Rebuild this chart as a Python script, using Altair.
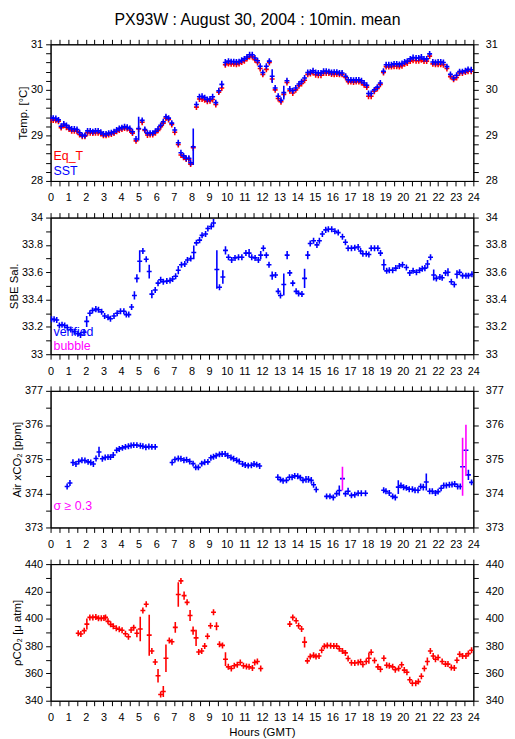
import altair as alt
import pandas as pd

TITLE = "PX93W : August 30, 2004 : 10min. mean"

# ---- Panel 1: (hour, SST, Eq_T, sigma)
TEMP_ROWS = [
    (0.00, 29.38, 29.34, 0), (0.15, 29.38, 29.34, 0), (0.30, 29.37, 29.33, 0), (0.45, 29.34, 29.31, 0),
    (0.60, 29.20, 29.17, 0), (0.75, 29.25, 29.22, 0), (0.90, 29.22, 29.18, 0), (1.05, 29.17, 29.14, 0),
    (1.20, 29.14, 29.10, 0), (1.35, 29.14, 29.10, 0), (1.50, 29.13, 29.09, 0), (1.65, 29.06, 29.02, 0),
    (1.80, 29.00, 28.98, 0), (1.95, 29.00, 28.98, 0), (2.10, 29.10, 29.06, 0), (2.25, 29.10, 29.06, 0),
    (2.40, 29.08, 29.05, 0), (2.55, 29.10, 29.06, 0), (2.70, 29.10, 29.06, 0), (2.85, 29.07, 29.04, 0),
    (3.00, 29.03, 29.00, 0), (3.15, 29.03, 29.00, 0), (3.30, 29.05, 29.02, 0), (3.45, 29.06, 29.03, 0),
    (3.60, 29.08, 29.05, 0), (3.75, 29.12, 29.09, 0), (3.90, 29.15, 29.12, 0), (4.05, 29.17, 29.14, 0),
    (4.20, 29.19, 29.16, 0), (4.35, 29.18, 29.15, 0), (4.50, 29.15, 29.12, 0), (4.65, 29.08, 29.05, 0),
    (4.85, 28.92, 28.88, 0), (5.00, 29.15, 29.14, 0.26), (5.20, 29.33, 29.29, 0), (5.35, 29.13, 29.11, 0),
    (5.50, 29.05, 29.01, 0), (5.65, 29.05, 29.02, 0), (5.80, 29.05, 29.02, 0), (5.95, 29.09, 29.06, 0),
    (6.10, 29.14, 29.11, 0), (6.25, 29.22, 29.19, 0), (6.40, 29.30, 29.27, 0), (6.55, 29.41, 29.38, 0),
    (6.70, 29.38, 29.35, 0), (6.88, 29.27, 29.24, 0), (7.05, 29.12, 29.07, 0), (7.25, 28.84, 28.80, 0.05),
    (7.40, 28.62, 28.57, 0), (7.55, 28.55, 28.52, 0), (7.70, 28.50, 28.48, 0), (7.85, 28.50, 28.48, 0),
    (7.95, 28.40, 28.37, 0), (8.10, 28.75, 28.73, 0.40), (8.28, 29.68, 29.62, 0.06), (8.45, 29.85, 29.80, 0),
    (8.60, 29.86, 29.80, 0), (8.75, 29.83, 29.78, 0), (8.90, 29.79, 29.75, 0), (9.05, 29.80, 29.76, 0),
    (9.20, 29.85, 29.79, 0), (9.38, 29.72, 29.68, 0), (9.55, 29.98, 29.95, 0), (9.72, 30.12, 30.04, 0.08),
    (9.92, 30.60, 30.55, 0.08), (10.10, 30.63, 30.58, 0), (10.25, 30.62, 30.57, 0), (10.40, 30.62, 30.57, 0),
    (10.55, 30.61, 30.56, 0), (10.70, 30.62, 30.58, 0), (10.85, 30.65, 30.61, 0), (11.00, 30.68, 30.64, 0),
    (11.15, 30.72, 30.69, 0), (11.30, 30.77, 30.73, 0), (11.45, 30.77, 30.73, 0), (11.60, 30.70, 30.66, 0),
    (11.75, 30.64, 30.60, 0), (11.90, 30.52, 30.47, 0.04), (12.05, 30.38, 30.34, 0), (12.25, 30.52, 30.45, 0.04),
    (12.42, 30.63, 30.60, 0), (12.58, 30.30, 30.24, 0.15), (12.75, 30.04, 30.00, 0.04), (12.92, 29.86, 29.81, 0),
    (13.08, 29.77, 29.74, 0), (13.24, 29.94, 29.90, 0.15), (13.42, 30.20, 30.16, 0), (13.58, 30.02, 29.98, 0),
    (13.75, 29.98, 29.93, 0), (13.92, 30.04, 30.00, 0), (14.10, 30.13, 30.09, 0), (14.25, 30.18, 30.14, 0),
    (14.42, 30.26, 30.21, 0), (14.60, 30.38, 30.34, 0), (14.75, 30.39, 30.36, 0), (14.90, 30.42, 30.38, 0),
    (15.05, 30.38, 30.33, 0), (15.20, 30.37, 30.32, 0), (15.35, 30.37, 30.32, 0), (15.50, 30.41, 30.37, 0),
    (15.65, 30.41, 30.37, 0), (15.80, 30.40, 30.37, 0), (15.95, 30.38, 30.35, 0), (16.10, 30.39, 30.34, 0),
    (16.25, 30.39, 30.35, 0), (16.40, 30.37, 30.34, 0), (16.55, 30.37, 30.34, 0), (16.75, 30.30, 30.27, 0),
    (16.90, 30.22, 30.18, 0), (17.05, 30.22, 30.18, 0), (17.20, 30.21, 30.17, 0), (17.35, 30.22, 30.18, 0),
    (17.50, 30.22, 30.18, 0), (17.65, 30.20, 30.16, 0), (17.80, 30.15, 30.11, 0), (17.95, 30.10, 30.06, 0),
    (18.05, 29.92, 29.86, 0), (18.20, 29.92, 29.86, 0), (18.38, 30.00, 29.97, 0), (18.55, 30.06, 30.03, 0),
    (18.72, 30.15, 30.12, 0), (18.90, 30.41, 30.38, 0), (19.05, 30.55, 30.51, 0), (19.20, 30.55, 30.51, 0),
    (19.35, 30.55, 30.51, 0), (19.50, 30.57, 30.52, 0), (19.65, 30.57, 30.52, 0), (19.80, 30.56, 30.51, 0),
    (19.95, 30.58, 30.53, 0), (20.10, 30.61, 30.57, 0), (20.25, 30.63, 30.59, 0), (20.42, 30.68, 30.63, 0),
    (20.58, 30.71, 30.65, 0), (20.75, 30.70, 30.64, 0), (20.90, 30.70, 30.64, 0), (21.05, 30.72, 30.66, 0),
    (21.20, 30.68, 30.63, 0), (21.35, 30.68, 30.63, 0), (21.52, 30.79, 30.74, 0), (21.70, 30.61, 30.57, 0),
    (21.85, 30.60, 30.56, 0), (22.00, 30.61, 30.56, 0), (22.15, 30.61, 30.56, 0), (22.30, 30.60, 30.55, 0),
    (22.50, 30.51, 30.47, 0), (22.70, 30.34, 30.29, 0), (22.88, 30.26, 30.23, 0), (23.05, 30.32, 30.27, 0),
    (23.22, 30.40, 30.37, 0), (23.38, 30.40, 30.37, 0), (23.55, 30.42, 30.39, 0), (23.70, 30.45, 30.41, 0),
    (23.88, 30.44, 30.41, 0),
]

# ---- Panel 2: (hour, SBE salinity, sigma)
SAL_ROWS = [
    (0.05, 33.255, 0), (0.20, 33.255, 0), (0.35, 33.25, 0), (0.50, 33.21, 0), (0.65, 33.215, 0),
    (0.80, 33.21, 0), (0.95, 33.195, 0), (1.15, 33.18, 0.01), (1.35, 33.165, 0), (1.55, 33.15, 0),
    (1.70, 33.14, 0), (1.90, 33.16, 0.025), (2.05, 33.24, 0.04), (2.23, 33.30, 0), (2.38, 33.32, 0),
    (2.57, 33.33, 0), (2.72, 33.325, 0), (2.90, 33.31, 0), (3.07, 33.28, 0), (3.26, 33.27, 0),
    (3.40, 33.26, 0), (3.60, 33.28, 0), (3.78, 33.30, 0), (3.97, 33.315, 0), (4.16, 33.315, 0),
    (4.30, 33.29, 0), (4.44, 33.29, 0), (4.60, 33.345, 0.02), (4.76, 33.43, 0.03), (4.90, 33.555, 0.03),
    (5.06, 33.68, 0.08), (5.24, 33.755, 0.02), (5.43, 33.695, 0.02), (5.60, 33.605, 0.05), (5.75, 33.44, 0.03),
    (5.94, 33.47, 0.02), (6.10, 33.52, 0), (6.25, 33.545, 0), (6.40, 33.53, 0), (6.60, 33.535, 0),
    (6.78, 33.54, 0), (6.93, 33.55, 0), (7.10, 33.57, 0), (7.25, 33.615, 0.03), (7.43, 33.655, 0),
    (7.62, 33.66, 0), (7.77, 33.69, 0), (7.96, 33.70, 0), (8.13, 33.745, 0.05), (8.28, 33.815, 0),
    (8.46, 33.835, 0), (8.60, 33.87, 0), (8.80, 33.88, 0), (8.93, 33.92, 0), (9.12, 33.935, 0),
    (9.25, 33.96, 0.03), (9.44, 33.62, 0.14), (9.59, 33.49, 0.02), (9.78, 33.565, 0.05), (9.93, 33.76, 0.03),
    (10.10, 33.71, 0), (10.28, 33.69, 0), (10.47, 33.705, 0), (10.67, 33.71, 0), (10.86, 33.71, 0),
    (11.09, 33.74, 0.02), (11.27, 33.74, 0.03), (11.42, 33.71, 0), (11.61, 33.705, 0), (11.80, 33.69, 0),
    (11.93, 33.725, 0.03), (12.08, 33.775, 0), (12.25, 33.725, 0.02), (12.40, 33.655, 0.02), (12.58, 33.575, 0.03),
    (12.77, 33.58, 0.02), (12.92, 33.46, 0.02), (13.05, 33.43, 0.02), (13.24, 33.51, 0.08), (13.43, 33.725, 0.03),
    (13.58, 33.595, 0.02), (13.75, 33.52, 0.02), (13.94, 33.46, 0), (14.08, 33.445, 0), (14.27, 33.44, 0),
    (14.42, 33.555, 0.07), (14.60, 33.725, 0.03), (14.74, 33.81, 0), (14.93, 33.83, 0), (15.12, 33.80, 0),
    (15.26, 33.83, 0.02), (15.43, 33.88, 0), (15.62, 33.91, 0), (15.77, 33.915, 0), (15.96, 33.915, 0),
    (16.14, 33.90, 0), (16.33, 33.89, 0), (16.57, 33.86, 0), (16.74, 33.82, 0.02), (16.89, 33.775, 0),
    (17.08, 33.775, 0), (17.27, 33.78, 0), (17.46, 33.785, 0.02), (17.60, 33.755, 0.02), (17.73, 33.735, 0.02),
    (17.92, 33.735, 0.02), (18.07, 33.73, 0), (18.20, 33.775, 0), (18.39, 33.775, 0), (18.58, 33.775, 0),
    (18.73, 33.74, 0.02), (18.92, 33.655, 0.04), (19.08, 33.61, 0), (19.23, 33.615, 0), (19.42, 33.615, 0.015),
    (19.60, 33.63, 0), (19.80, 33.645, 0), (19.98, 33.655, 0), (20.20, 33.635, 0.015), (20.39, 33.595, 0),
    (20.58, 33.61, 0), (20.77, 33.60, 0), (20.95, 33.615, 0), (21.10, 33.625, 0), (21.25, 33.63, 0),
    (21.40, 33.66, 0.03), (21.57, 33.71, 0.02), (21.75, 33.58, 0.04), (21.90, 33.555, 0), (22.10, 33.565, 0.015),
    (22.23, 33.56, 0), (22.42, 33.595, 0.02), (22.56, 33.60, 0.03), (22.75, 33.53, 0), (22.92, 33.51, 0.015),
    (23.07, 33.585, 0.03), (23.22, 33.60, 0), (23.39, 33.575, 0), (23.58, 33.575, 0), (23.72, 33.575, 0),
    (23.92, 33.585, 0),
]

# ---- Panel 3: (hour, air xCO2, sigma)
XCO2_ROWS = [
    (0.94, 374.20, 0), (1.10, 374.30, 0), (1.27, 374.90, 0.10), (1.44, 374.86, 0.08), (1.60, 374.93, 0),
    (1.78, 374.97, 0), (1.95, 374.96, 0), (2.13, 374.92, 0), (2.28, 374.90, 0), (2.43, 374.86, 0),
    (2.58, 375.02, 0), (2.75, 375.21, 0.15), (2.94, 375.01, 0.08), (3.10, 375.05, 0), (3.26, 375.06, 0),
    (3.40, 375.06, 0), (3.56, 375.12, 0), (3.75, 375.26, 0), (3.90, 375.30, 0), (4.08, 375.33, 0),
    (4.25, 375.36, 0), (4.42, 375.38, 0), (4.57, 375.40, 0), (4.72, 375.41, 0), (4.90, 375.41, 0),
    (5.10, 375.39, 0), (5.24, 375.38, 0), (5.41, 375.35, 0), (5.58, 375.37, 0), (5.75, 375.36, 0),
    (5.94, 375.36, 0),
    (6.90, 374.90, 0), (7.06, 374.99, 0), (7.25, 375.02, 0), (7.40, 375.01, 0), (7.57, 374.97, 0),
    (7.72, 374.98, 0), (7.90, 374.93, 0), (8.09, 374.87, 0), (8.24, 374.76, 0), (8.39, 374.76, 0),
    (8.58, 374.87, 0), (8.75, 374.91, 0), (8.93, 374.92, 0), (9.10, 375.04, 0), (9.25, 375.07, 0),
    (9.40, 375.10, 0), (9.59, 375.14, 0), (9.74, 375.15, 0), (9.91, 375.15, 0), (10.06, 375.10, 0),
    (10.24, 375.05, 0), (10.39, 375.01, 0), (10.56, 374.97, 0), (10.71, 374.93, 0), (10.90, 374.86, 0),
    (11.05, 374.83, 0), (11.22, 374.81, 0), (11.40, 374.82, 0), (11.55, 374.86, 0), (11.70, 374.84, 0),
    (11.87, 374.80, 0),
    (12.90, 374.47, 0), (13.05, 374.40, 0), (13.20, 374.37, 0), (13.39, 374.38, 0), (13.56, 374.47, 0),
    (13.71, 374.47, 0), (13.86, 374.51, 0), (14.03, 374.50, 0), (14.18, 374.46, 0), (14.33, 374.38, 0),
    (14.50, 374.41, 0.10), (14.64, 374.41, 0.10), (14.80, 374.38, 0.10), (14.93, 374.25, 0), (15.08, 374.11, 0.06),
    (15.67, 373.91, 0), (15.86, 373.91, 0), (16.05, 373.88, 0), (16.24, 373.99, 0), (16.39, 374.08, 0.15),
    (16.57, 374.43, 0.35), (16.74, 373.99, 0.06), (16.89, 374.06, 0.10), (17.08, 373.94, 0), (17.27, 373.96, 0),
    (17.46, 374.00, 0), (17.64, 374.00, 0), (17.88, 374.00, 0.06),
    (18.91, 374.09, 0), (19.04, 374.06, 0), (19.23, 374.01, 0), (19.42, 373.91, 0), (19.57, 373.88, 0),
    (19.74, 374.18, 0.20), (19.89, 374.23, 0), (20.04, 374.18, 0), (20.20, 374.16, 0), (20.36, 374.12, 0),
    (20.54, 374.12, 0), (20.69, 374.09, 0), (20.86, 374.09, 0), (21.01, 374.20, 0), (21.16, 374.18, 0.10),
    (21.33, 374.33, 0.25), (21.52, 374.06, 0), (21.67, 374.06, 0), (21.85, 374.01, 0), (22.00, 374.05, 0),
    (22.17, 374.15, 0), (22.32, 374.23, 0), (22.47, 374.23, 0), (22.64, 374.25, 0), (22.79, 374.26, 0),
    (22.94, 374.27, 0), (23.11, 374.20, 0), (23.26, 374.20, 0), (23.39, 374.78, 0.85), (23.58, 375.26, 0.75),
    (23.72, 374.54, 0.15), (23.90, 374.32, 0),
]

# ---- Panel 4: (hour, pCO2, sigma)
PCO2_ROWS = [
    (1.57, 389.4, 0), (1.72, 388.9, 0), (1.91, 391.3, 0), (2.06, 396.1, 4), (2.23, 401.0, 0),
    (2.40, 401.0, 0), (2.57, 401.2, 0), (2.72, 400.3, 0), (2.88, 400.3, 0), (3.03, 400.5, 0),
    (3.12, 401.0, 0), (3.26, 398.1, 0), (3.41, 395.9, 0), (3.56, 394.5, 0), (3.73, 393.0, 0),
    (3.90, 392.3, 0), (4.06, 391.6, 0), (4.25, 389.0, 0), (4.42, 386.8, 0), (4.57, 391.8, 2),
    (4.72, 393.5, 0), (4.90, 389.4, 3), (5.09, 392.5, 9), (5.24, 406.0, 2), (5.43, 410.6, 2),
    (5.60, 388.0, 15), (5.75, 376.4, 2), (5.94, 368.4, 1), (6.10, 358.3, 5), (6.25, 344.6, 2),
    (6.40, 346.8, 4), (6.55, 371.1, 10), (6.74, 384.1, 1), (6.89, 383.2, 1), (7.08, 393.7, 4),
    (7.25, 417.8, 9), (7.40, 427.7, 2), (7.58, 416.9, 3), (7.75, 412.0, 1), (7.92, 402.4, 4),
    (8.09, 391.3, 3), (8.26, 386.0, 6), (8.41, 375.7, 1), (8.58, 376.4, 0), (8.75, 380.0, 1),
    (8.91, 387.2, 2), (9.08, 394.9, 2), (9.25, 404.8, 2), (9.42, 394.5, 3), (9.59, 381.3, 2),
    (9.76, 380.5, 1), (9.93, 370.4, 5), (10.09, 364.8, 0), (10.26, 363.6, 0), (10.43, 365.6, 0),
    (10.60, 366.3, 0), (10.77, 368.0, 0), (10.95, 365.6, 0), (11.12, 365.1, 0), (11.27, 364.8, 0),
    (11.46, 363.9, 0), (11.59, 368.0, 1), (11.74, 368.7, 1), (11.93, 363.6, 0),
    (13.58, 396.1, 1), (13.75, 401.0, 0), (13.94, 398.6, 0), (14.08, 394.9, 0), (14.25, 392.5, 0),
    (14.42, 382.9, 4), (14.58, 369.2, 2), (14.74, 372.3, 1), (14.93, 373.3, 0), (15.07, 372.3, 0),
    (15.24, 372.8, 0), (15.39, 376.9, 0), (15.54, 379.8, 0), (15.71, 380.5, 0), (15.90, 380.3, 0),
    (16.08, 380.0, 0), (16.24, 380.0, 0), (16.39, 378.1, 0), (16.57, 376.4, 0), (16.74, 375.0, 0),
    (16.89, 370.9, 1), (17.08, 367.8, 0), (17.27, 367.6, 0), (17.46, 368.0, 0), (17.60, 368.5, 0),
    (17.73, 366.5, 0), (17.92, 368.7, 0), (18.07, 371.1, 4), (18.20, 375.5, 1), (18.39, 369.4, 2),
    (18.58, 364.8, 0), (18.73, 363.1, 0), (18.92, 371.1, 1), (19.08, 366.0, 0), (19.23, 365.6, 0),
    (19.42, 364.8, 0), (19.57, 362.7, 0), (19.76, 363.6, 0), (19.93, 366.3, 0), (20.08, 362.4, 0),
    (20.23, 360.8, 0), (20.39, 355.4, 2), (20.54, 352.8, 0), (20.73, 352.8, 0), (20.88, 354.0, 0),
    (21.05, 357.9, 2), (21.22, 363.6, 0), (21.39, 368.7, 3), (21.56, 376.4, 2), (21.72, 372.8, 2),
    (21.85, 370.4, 0), (22.00, 371.6, 0), (22.23, 368.7, 0), (22.42, 366.8, 0), (22.56, 366.8, 0),
    (22.75, 364.3, 0), (22.92, 363.9, 0), (23.07, 369.6, 2), (23.22, 374.0, 0), (23.39, 372.8, 0),
    (23.58, 372.8, 0), (23.72, 374.5, 0), (23.90, 376.9, 2),
]

LEGEND_TEMP = ["Eq_T", "SST"]
LEGEND_SAL = ["verified", "bubble"]
LEGEND_XCO2 = ["σ ≥ 0.3"]

# ---- styling
BLUE, RED, MAGENTA = "#0000ff", "#ff0000", "#ff00ff"
FONT = "Liberation Sans"
W, H = 427, 138
ARM = 0.14
TICK = 5
SW = 1.6

x_ticks = [i * 0.5 for i in range(49)]
xscale = alt.Scale(domain=[0, 24], nice=False, zero=False)
X_LABELS = "abs(datum.value - round(datum.value)) < 0.01 ? format(datum.value, 'd') : ''"


def bottom_axis(title):
    if title:
        return alt.Axis(orient="bottom", values=x_ticks, labelExpr=X_LABELS, labelFlush=False,
                        labelOverlap=False, tickSize=TICK, labelPadding=6, title=title, titlePadding=4)
    return alt.Axis(orient="bottom", values=x_ticks, labelExpr=X_LABELS, labelFlush=False,
                    labelOverlap=False, tickSize=TICK, labelPadding=6, title=None)


top_axis = alt.Axis(orient="top", values=x_ticks, labels=False, tickSize=TICK, title=None)


def y_axes(ticks, label_expr, title):
    left = alt.Axis(orient="left", values=ticks, labelExpr=label_expr, labelOverlap=False,
                    labelFlush=False, tickSize=TICK, labelPadding=3, title=title, titlePadding=2)
    right = alt.Axis(orient="right", values=ticks, labelExpr=label_expr, labelOverlap=False,
                     labelFlush=False, tickSize=TICK, labelPadding=7, title=None)
    return left, right


def arms(df, ycol, yscale, color, xaxis, yaxis):
    return alt.Chart(df).transform_calculate(
        xa=f"datum.h - {ARM}", xb=f"datum.h + {ARM}"
    ).mark_rule(color=color, strokeWidth=SW, clip=True).encode(
        x=alt.X("xa:Q", scale=xscale, axis=xaxis),
        x2="xb:Q",
        y=alt.Y(f"{ycol}:Q", scale=yscale, axis=yaxis),
    )


def bars(df, ycol, yscale, color_enc, min_e, xaxis, yaxis):
    return alt.Chart(df).transform_calculate(
        lo=f"datum.{ycol} - max(datum.e, {min_e})", hi=f"datum.{ycol} + max(datum.e, {min_e})"
    ).mark_rule(strokeWidth=SW, clip=True).encode(
        x=alt.X("h:Q", scale=xscale, axis=xaxis),
        y=alt.Y("lo:Q", scale=yscale, axis=yaxis),
        y2="hi:Q",
        color=color_enc,
    )


def label(text, color, y):
    return alt.Chart(pd.DataFrame({"t": [text]})).mark_text(
        align="left", baseline="alphabetic", font=FONT, fontSize=12.5, color=color
    ).encode(text="t:N", x=alt.value(3), y=alt.value(y))


# ---- Panel 1
temp_df = pd.DataFrame(TEMP_ROWS, columns=["h", "sst", "eqt", "e"])
ys1 = alt.Scale(domain=[28, 31], nice=False, zero=False)
yt1 = [28 + i * 0.2 for i in range(16)]
l1, r1 = y_axes(yt1, "abs(datum.value - round(datum.value)) < 0.01 ? format(datum.value, 'd') : ''", "Temp. [°C]")
p1 = alt.layer(
    arms(temp_df, "eqt", ys1, RED, bottom_axis(None), l1),
    bars(temp_df.assign(e=0), "eqt", ys1, alt.value(RED), 0.065, top_axis, r1),
    arms(temp_df, "sst", ys1, BLUE, None, None),
    bars(temp_df, "sst", ys1, alt.value(BLUE), 0.065, None, None),
    label(LEGEND_TEMP[0], RED, 117),
    label(LEGEND_TEMP[1], BLUE, 132),
).resolve_axis(x="independent", y="independent").properties(width=W, height=H)

# ---- Panel 2
sal_df = pd.DataFrame(SAL_ROWS, columns=["h", "sal", "e"])
ys2 = alt.Scale(domain=[33, 34], nice=False, zero=False)
yt2 = [33 + i * 0.1 for i in range(11)]
l2, r2 = y_axes(yt2, "round(datum.value * 10) % 2 == 0 ? format(datum.value, '.1~f') : ''", "SBE Sal.")
p2 = alt.layer(
    arms(sal_df, "sal", ys2, BLUE, bottom_axis(None), l2),
    bars(sal_df, "sal", ys2, alt.value(BLUE), 0.022, top_axis, r2),
    label(LEGEND_SAL[0], BLUE, 120),
    label(LEGEND_SAL[1], MAGENTA, 134),
).resolve_axis(x="independent", y="independent").properties(width=W, height=H)

# ---- Panel 3
xco2_df = pd.DataFrame(XCO2_ROWS, columns=["h", "xco2", "e"])
ys3 = alt.Scale(domain=[373, 377], nice=False, zero=False)
yt3 = [373 + i * 0.5 for i in range(9)]
l3, r3 = y_axes(yt3, "abs(datum.value - round(datum.value)) < 0.01 ? format(datum.value, 'd') : ''", "Air xCO₂ [ppm]")
p3 = alt.layer(
    arms(xco2_df, "xco2", ys3, BLUE, bottom_axis(None), l3),
    bars(xco2_df, "xco2", ys3,
         alt.condition("datum.e >= 0.3", alt.value(MAGENTA), alt.value(BLUE)), 0.087, top_axis, r3),
    label(LEGEND_XCO2[0], MAGENTA, 120),
).resolve_axis(x="independent", y="independent").properties(width=W, height=H)

# ---- Panel 4
pco2_df = pd.DataFrame(PCO2_ROWS, columns=["h", "pco2", "e"])
ys4 = alt.Scale(domain=[340, 440], nice=False, zero=False)
yt4 = [340 + i * 10 for i in range(11)]
l4, r4 = y_axes(yt4, "round(datum.value) % 20 == 0 ? format(datum.value, 'd') : ''", "ρCO₂ [μ atm]")
p4 = alt.layer(
    arms(pco2_df, "pco2", ys4, RED, bottom_axis("Hours (GMT)"), l4),
    bars(pco2_df, "pco2", ys4, alt.value(RED), 2.2, top_axis, r4),
).resolve_axis(x="independent", y="independent").properties(width=W, height=H)

chart = alt.vconcat(p1, p2, p3, p4, spacing=7).properties(
    title=alt.Title(TITLE, fontSize=16, font=FONT, fontWeight="normal", anchor="middle", offset=10),
    padding=0,
).configure_view(stroke="black", strokeWidth=1).configure_axis(
    labelFont=FONT, labelFontSize=11, titleFont=FONT, titleFontSize=11.5, titleFontWeight="normal",
    domainColor="black", tickColor="black", labelColor="black", titleColor="black", grid=False,
)

chart.save("out.html", embed_options={"renderer": "svg", "actions": False})
